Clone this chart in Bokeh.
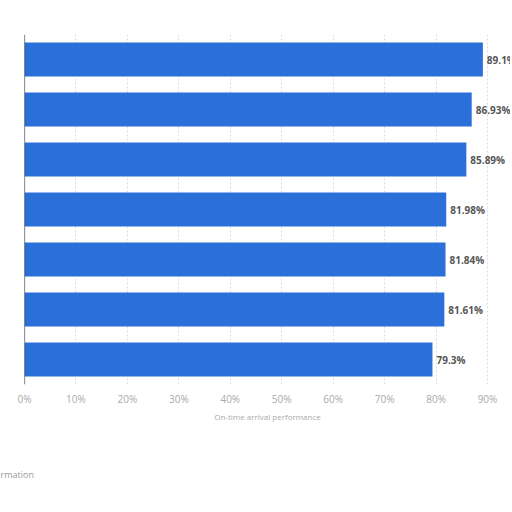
from bokeh.plotting import figure
from bokeh.models import Range1d, FixedTicker, PrintfTickFormatter, Span, ColumnDataSource, LabelSet, Title
from bokeh.core.properties import value
from bokeh.embed import file_html
from bokeh.resources import INLINE

ranks = [1, 2, 3, 4, 5, 6, 7]
values = [89.1, 86.93, 85.89, 81.98, 81.84, 81.61, 79.3]
value_labels = ["89.1%", "86.93%", "85.89%", "81.98%", "81.84%", "81.61%", "79.3%"]
x_ticks = [0, 10, 20, 30, 40, 50, 60, 70, 80, 90]
axis_title = "On-time arrival performance"

src = ColumnDataSource(dict(y=ranks, v=values, lab=value_labels))

p = figure(frame_width=486, frame_height=350, output_backend="svg", toolbar_location=None,
           x_range=Range1d(0, 94.47), y_range=Range1d(7.5, 0.5),
           min_border_left=24, min_border_right=0, min_border_top=34, min_border_bottom=20)

p.hbar(y="y", right="v", left=0, height=0.68, source=src, color="#2b6fd8", line_color=None)

labels = LabelSet(x="v", y="y", text="lab", source=src, x_offset=4, y_offset=0,
                  text_baseline="middle", text_font_size="10px", text_color="#555555",
                  text_font=value("Open Sans"), text_font_style="bold")
p.add_layout(labels)

p.yaxis.visible = False
p.add_layout(Span(location=0, dimension="height", line_color="#333333", line_width=1.2))

p.xaxis.ticker = FixedTicker(ticks=x_ticks)
p.xaxis.formatter = PrintfTickFormatter(format="%d%%")
p.xaxis.axis_line_color = None
p.xaxis.major_tick_line_color = None
p.xaxis.minor_tick_line_color = None
p.xaxis.major_label_text_color = "#aaaaaa"
p.xaxis.major_label_text_font_size = "10px"
p.xaxis.major_label_text_font = "Open Sans"
p.xaxis.major_label_standoff = 1
p.xaxis.axis_label = axis_title
p.xaxis.axis_label_text_font_size = "8px"
p.xaxis.axis_label_text_font_style = "normal"
p.xaxis.axis_label_text_color = "#aaaaaa"
p.xaxis.axis_label_text_font = "Open Sans"
p.xaxis.axis_label_standoff = 2

p.xgrid.ticker = FixedTicker(ticks=x_ticks)
p.xgrid.grid_line_color = "#dddddd"
p.xgrid.grid_line_dash = "2 2"
p.ygrid.grid_line_color = None
p.outline_line_color = None
p.background_fill_color = "white"

p.add_layout(Title(text="rmation", align="left", offset=-24, standoff=82,
                   text_font_size="9px", text_font_style="normal", text_color="#999999",
                   text_font="Open Sans"), "below")

open("out.html", "w").write(file_html(p, INLINE))
